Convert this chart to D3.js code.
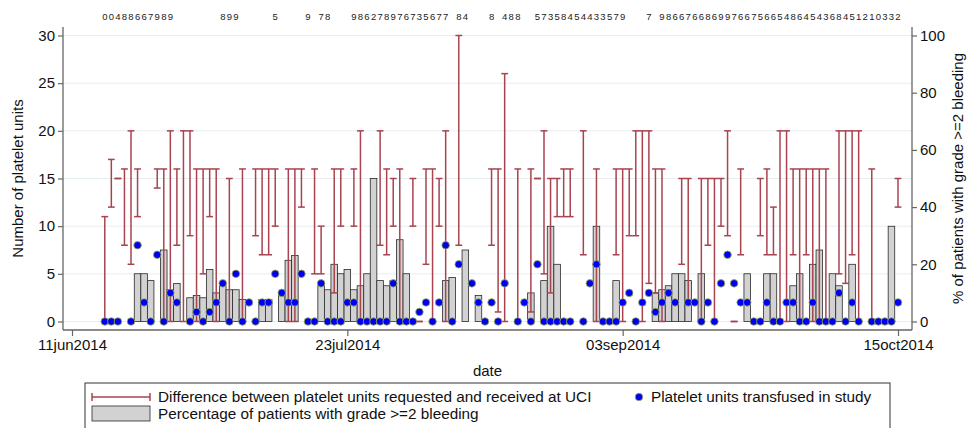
<!DOCTYPE html>
<html>
<head>
<meta charset="utf-8">
<script src="https://cdn.jsdelivr.net/npm/d3@7"></script>
<style>
body { margin: 0; background: #fff; }
svg text { font-family: "Liberation Sans", Arial, sans-serif; fill: #111; }
</style>
</head>
<body>
<div id="chart"></div>
<script>
// one entry per day, 16jun2014 .. 15oct2014
const firstDay = '2014-06-16'
const axisStart = '2014-06-11'
const axisEnd = '2014-10-15'
const dateTicks = ['2014-06-11', '2014-07-23', '2014-09-03', '2014-10-15']
const leftTicks = [0, 5, 10, 15, 20, 25, 30]
const rightTicks = [0, 20, 40, 60, 80, 100]

// % of patients with grade >=2 bleeding (right axis)
const bleedPct = [
  null, null, null, null, null, 16.7, 16.7, 14.3, null, 25,
  11.1, 13.3, null, 8.3, 9.1, 8.3, 18.2, 10, 12.5, 11.1,
  11.1, 7.7, null, null, 7.7, 7.7, null, 10, 21.4, 23.1,
  null, null, null, 12.5, 11.1, 20, 16.7, 18.2, 11.1, 12.5,
  16.7, 50, 14.3, 12.5, 14.3, 28.6, 16.7, null, null, null,
  null, null, 14.3, 15.4, null, 25, null, 9.1, null, null,
  null, null, null, null, null, 10, null, 14.3, 33.3, 20,
  null, null, null, null, null, 33.3, null, null, 14.3, null,
  null, null, null, null, 10, 11.1, 12.5, 16.7, 16.7, 14.3,
  null, 16.7, null, null, null, null, null, null, 16.7, null,
  null, 16.7, 16.7, null, null, 12.5, 16.7, null, 20, 25,
  null, 16.7, 12.5, null, 20, null, null, null, null, null,
  33.3, null
]

// platelet units: received (low) and requested (high)
const unitsLow = [
  0, 12, 15, 8, 6, 11, null, null, 14, 0,
  0, 8, 0, 9, 0, 5, 11, 0, null, 0,
  null, 0, null, 9, 7, 7, 10, null, 0, 0,
  12, null, 5, 5, null, 3, 10, null, 10, 0,
  null, null, 8, 7, 10, 0, null, 10, 0, 6,
  0, 10, 0, null, 8, null, null, null, null, 8,
  1, 0, null, 0, null, 1, 15, 5, 3, 11,
  11, 11, null, 7, null, 0, null, null, 7, 0,
  9, 9, 0, 4, 3, 0, null, null, 6, 2,
  null, 0, 8, 0, 10, 9, 0, 7, null, null,
  9, 7, 7, 0, 0, 7, 0, 7, 0, 0,
  0, null, 5, 4, 7, 0, null, 0, null, null,
  null, 12
]
const unitsHigh = [
  11, 17, 15, 16, 20, 16, null, null, 16, 16,
  20, 16, 20, 20, 16, 16, 16, 16, null, 15,
  null, 16, null, 16, 16, 16, 16, null, 16, 16,
  16, null, 16, 10, null, 16, 16, null, 16, 20,
  null, null, 20, 16, 15, 16, null, 15, 0, 16,
  16, 15, 20, null, 30, null, null, null, null, 16,
  16, 26, null, 16, null, 16, 15, 20, 15, 15,
  16, 16, null, 20, null, 16, null, null, 16, 16,
  16, 20, 20, 20, 16, 16, null, null, 15, 15,
  null, 15, 15, 15, 15, 20, 0, 16, null, null,
  15, 16, 12, 20, 20, 16, 16, 16, 16, 16,
  16, null, 20, 20, 20, 20, null, 16, null, null,
  null, 15
]

// platelet units transfused in study
const transfused = [
  0, 0, 0, null, 0, 8, 2, 0, 7, 0,
  3, 2, null, 0, 1, 0, 1, 2, 4, 0,
  5, 0, 2, 0, 2, 2, 5, 3, 2, 2,
  5, 0, 0, 4, 0, 0, 0, 2, 2, 0,
  0, 0, 0, 0, 4, 0, 0, 0, 1, 2,
  0, 2, 8, 0, 6, null, 4, 2, 0, 2,
  0, 4, null, 0, 2, 0, 6, 0, 0, 0,
  0, 0, null, 0, 4, 6, 0, 0, 0, 2,
  3, 0, 2, 3, 1, 2, 3, 2, null, 2,
  2, 0, 2, 0, 4, 7, 4, 2, 2, 0,
  0, 2, 0, 0, 2, 2, 0, 0, 2, 0,
  0, 0, 3, 0, 2, 0, null, 0, 0, 0,
  0, 2
]

// digits printed above the plot, one character per day
const topLabels = ('00488667989       899     5    9 78   986278976735677 84   8 488  ' +
  '57358454433579   7 9866766869976675665486454368451210332').split('')

const parse = d3.utcParse('%Y-%m-%d')
const day0 = parse(firstDay)
const rows = bleedPct.map((p, i) => ({
  date: d3.utcDay.offset(day0, i),
  pct: p, lo: unitsLow[i], hi: unitsHigh[i], tr: transfused[i], lab: topLabels[i] || ' '
}))

const width = 973
const height = 428
const plotLeft = 63
const plotRight = 912
const plotTop = 27
const plotBottom = 330

const svg = d3.select('#chart').append('svg')
  .attr('width', width)
  .attr('height', height)

const x = d3.scaleUtc().domain([parse(axisStart), parse(axisEnd)]).range([72, 898])
const yL = d3.scaleLinear().domain([0, 30]).range([321.5, 35.5])
const yR = d3.scaleLinear().domain([0, 100]).range([321.5, 35.5])
const dayW = x(d3.utcDay.offset(day0, 1)) - x(day0)

// grid
svg.append('g').selectAll('line')
  .data(leftTicks)
  .enter()
  .append('line')
  .attr('x1', plotLeft).attr('x2', plotRight)
  .attr('y1', d => yL(d)).attr('y2', d => yL(d))
  .attr('stroke', '#e6eef0')
  .attr('stroke-width', 1)

// bars
svg.append('g').selectAll('rect')
  .data(rows.filter(d => d.pct != null))
  .enter()
  .append('rect')
  .attr('x', d => x(d.date) - dayW / 2)
  .attr('width', dayW)
  .attr('y', d => yR(d.pct))
  .attr('height', d => yR(0) - yR(d.pct))
  .attr('fill', '#d2d2d2')
  .attr('stroke', '#2a2a2a')
  .attr('stroke-width', 0.8)

// range caps
const red = '#a8434f'
const rc = svg.append('g')
  .attr('stroke', red)
  .attr('stroke-width', 1.5)
const caps = rows.filter(d => d.lo != null)
rc.selectAll('line.v').data(caps).enter().append('line')
  .attr('x1', d => x(d.date)).attr('x2', d => x(d.date))
  .attr('y1', d => yL(d.lo)).attr('y2', d => yL(d.hi))
rc.selectAll('line.hi').data(caps).enter().append('line')
  .attr('x1', d => x(d.date) - 3.4).attr('x2', d => x(d.date) + 3.4)
  .attr('y1', d => yL(d.hi)).attr('y2', d => yL(d.hi))
rc.selectAll('line.lo').data(caps).enter().append('line')
  .attr('x1', d => x(d.date) - 3.4).attr('x2', d => x(d.date) + 3.4)
  .attr('y1', d => yL(d.lo)).attr('y2', d => yL(d.lo))

// dots
svg.append('g').selectAll('circle')
  .data(rows.filter(d => d.tr != null))
  .enter()
  .append('circle')
  .attr('cx', d => x(d.date))
  .attr('cy', d => yL(d.tr))
  .attr('r', 3.8)
  .attr('fill', '#0000f2')
  .attr('stroke', '#a4b64a')
  .attr('stroke-width', 0.8)

// top digits
svg.append('g').selectAll('text')
  .data(rows.filter(d => d.lab !== ' '))
  .enter()
  .append('text')
  .attr('x', d => x(d.date))
  .attr('y', 20)
  .attr('text-anchor', 'middle')
  .style('font-size', '9.5px')
  .style('fill', '#222')
  .text(d => d.lab)

// axes
const axisColor = '#666'
const fmt = d => d3.utcFormat('%d%b%Y')(d).toLowerCase()
const styleAxis = g => {
  g.select('.domain').remove()
  g.selectAll('.tick line').attr('stroke', axisColor).attr('stroke-width', 1.2)
  g.selectAll('.tick text').style('font-size', '15px').style('fill', '#111')
}
svg.append('g')
  .attr('transform', `translate(0, ${plotBottom})`)
  .call(d3.axisBottom(x).tickValues(dateTicks.map(parse)).tickFormat(fmt).tickSize(6).tickPadding(3))
  .call(styleAxis)
svg.append('g')
  .attr('transform', `translate(${plotLeft}, 0)`)
  .call(d3.axisLeft(yL).tickValues(leftTicks).tickSize(5).tickPadding(3))
  .call(styleAxis)
svg.append('g')
  .attr('transform', `translate(${plotRight}, 0)`)
  .call(d3.axisRight(yR).tickValues(rightTicks).tickSize(5).tickPadding(3))
  .call(styleAxis)

svg.append('line').attr('x1', plotLeft).attr('x2', plotLeft).attr('y1', plotTop).attr('y2', plotBottom)
  .attr('stroke', axisColor).attr('stroke-width', 1.3)
svg.append('line').attr('x1', plotRight).attr('x2', plotRight).attr('y1', plotTop).attr('y2', plotBottom)
  .attr('stroke', axisColor).attr('stroke-width', 1.3)
svg.append('line').attr('x1', plotLeft).attr('x2', plotRight).attr('y1', plotBottom).attr('y2', plotBottom)
  .attr('stroke', axisColor).attr('stroke-width', 1.3)

// titles
svg.append('text')
  .attr('transform', `translate(23, ${(yL(0) + yL(30)) / 2}) rotate(-90)`)
  .attr('text-anchor', 'middle')
  .style('font-size', '15px')
  .text('Number of platelet units')
svg.append('text')
  .attr('transform', `translate(963, ${(yL(0) + yL(30)) / 2}) rotate(-90)`)
  .attr('text-anchor', 'middle')
  .style('font-size', '15px')
  .text('% of patients with grade >=2 bleeding')
svg.append('text')
  .attr('x', (plotLeft + plotRight) / 2)
  .attr('y', 376)
  .attr('text-anchor', 'middle')
  .style('font-size', '15px')
  .text('date')

// legend
const lg = svg.append('g')
lg.append('rect')
  .attr('x', 85).attr('y', 383).attr('width', 805).attr('height', 50)
  .attr('fill', '#fff').attr('stroke', '#333').attr('stroke-width', 1)
lg.append('line').attr('x1', 92).attr('x2', 150).attr('y1', 397).attr('y2', 397)
  .attr('stroke', red).attr('stroke-width', 1.5)
lg.append('line').attr('x1', 92).attr('x2', 92).attr('y1', 393).attr('y2', 401)
  .attr('stroke', red).attr('stroke-width', 1.5)
lg.append('line').attr('x1', 150).attr('x2', 150).attr('y1', 393).attr('y2', 401)
  .attr('stroke', red).attr('stroke-width', 1.5)
lg.append('text').attr('x', 158).attr('y', 402).style('font-size', '15.3px')
  .text('Difference between platelet units requested and received at UCI')
lg.append('circle').attr('cx', 639).attr('cy', 397).attr('r', 3.8)
  .attr('fill', '#0000f2').attr('stroke', '#a4b64a').attr('stroke-width', 0.8)
lg.append('text').attr('x', 651).attr('y', 402).style('font-size', '15.3px')
  .text('Platelet units transfused in study')
lg.append('rect').attr('x', 92).attr('y', 406).attr('width', 58).attr('height', 15)
  .attr('fill', '#d2d2d2').attr('stroke', '#2a2a2a').attr('stroke-width', 0.8)
lg.append('text').attr('x', 158).attr('y', 419).style('font-size', '15.3px')
  .text('Percentage of patients with grade >=2 bleeding')
</script>
</body>
</html>
